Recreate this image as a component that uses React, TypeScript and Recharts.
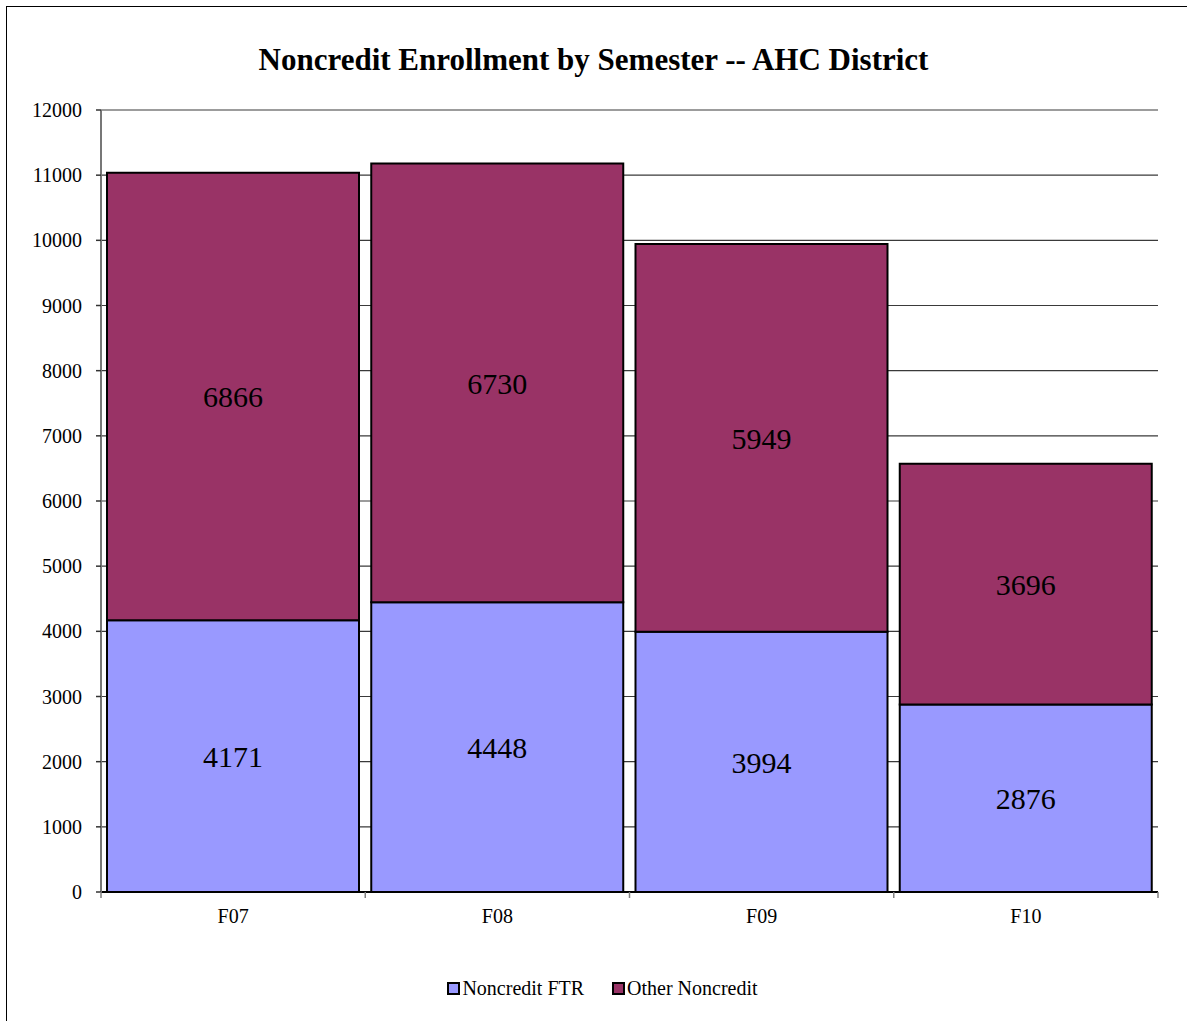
import React from 'react';
import { BarChart, Bar, XAxis, YAxis, CartesianGrid, LabelList } from 'recharts';

const categories = ['F07', 'F08', 'F09', 'F10'];
const ftrValues = [4171, 4448, 3994, 2876];
const otherValues = [6866, 6730, 5949, 3696];
const yTicks = [0, 1000, 2000, 3000, 4000, 5000, 6000, 7000, 8000, 9000, 10000, 11000, 12000];
const legendItems = [
  { label: 'Noncredit FTR', color: '#9999FF' },
  { label: 'Other Noncredit', color: '#993366' },
];

const data = categories.map((c, i) => ({ name: c, ftr: ftrValues[i], other: otherValues[i] }));

const FONT = '"Liberation Serif", "Times New Roman", serif';

const XTick = (props: any) => {
  const { x, y, payload, index, visibleTicksCount } = props;
  const half = payload.offset || 0;
  const axisY = y - 17;
  return (
    <g>
      <line x1={x - half} x2={x - half} y1={axisY} y2={axisY + 6} stroke="#808080" strokeWidth={1.5} />
      {index === visibleTicksCount - 1 && (
        <line x1={x + half} x2={x + half} y1={axisY} y2={axisY + 6} stroke="#808080" strokeWidth={1.5} />
      )}
      <text x={x} y={y} dy="0.71em" textAnchor="middle" style={{ fontFamily: FONT }} fontSize={20} fill="#000">
        {payload.value}
      </text>
    </g>
  );
};

export default function App() {
  return (
    <div style={{ position: 'fixed', left: 0, top: 0, width: 1187, height: 1021, overflow: 'hidden', background: '#fff', fontFamily: FONT }}>
      <div style={{ position: 'absolute', left: 6, top: 6, width: 1200, height: 1030, border: '1.5px solid #000' }} />
      <div style={{ position: 'absolute', left: 0, top: 42, width: 1187, textAlign: 'center', fontFamily: FONT, fontWeight: 'bold', fontSize: 31, color: '#000' }}>
        Noncredit Enrollment by Semester -- AHC District
      </div>
      <div style={{ position: 'absolute', left: 0, top: 0, fontFamily: FONT }}>
        <BarChart width={1187} height={1021} data={data} margin={{ top: 110, right: 29, left: 0, bottom: 0 }} barCategoryGap={6} style={{ fontFamily: FONT }}>
          <CartesianGrid vertical={false} stroke="#3a3a3a" strokeWidth={1.2} />
          <XAxis dataKey="name" height={129} tickLine={false} tickSize={0} tickMargin={17} axisLine={{ stroke: '#000', strokeWidth: 2 }} tick={<XTick />} interval={0} />
          <XAxis xAxisId="top" orientation="top" dataKey="name" height={0} tick={false} tickLine={false} axisLine={{ stroke: '#999', strokeWidth: 2 }} />
          <YAxis width={101} domain={[0, 12000]} ticks={yTicks} interval={0} tickSize={5} tickMargin={14}
            tickLine={{ stroke: '#333', strokeWidth: 1.5 }} axisLine={{ stroke: '#777', strokeWidth: 2 }}
            tick={{ fontSize: 20, fill: '#000', style: { fontFamily: FONT } }} />
          <YAxis yAxisId="right" orientation="right" width={0} domain={[0, 12000]} tick={false} tickLine={false} axisLine={{ stroke: '#999', strokeWidth: 2 }} />
          <Bar dataKey="ftr" name="Noncredit FTR" stackId="a" fill="#9999FF" stroke="#000" strokeWidth={2} isAnimationActive={false}>
            <LabelList dataKey="ftr" position="center" fontSize={30} fill="#000" style={{ fontFamily: FONT }} />
          </Bar>
          <Bar dataKey="other" name="Other Noncredit" stackId="a" fill="#993366" stroke="#000" strokeWidth={2} isAnimationActive={false}>
            <LabelList dataKey="other" position="center" fontSize={30} fill="#000" style={{ fontFamily: FONT }} />
          </Bar>
        </BarChart>
      </div>
      <div style={{ position: 'absolute', left: 0, top: 977, width: 1187, display: 'flex', justifyContent: 'center', fontFamily: FONT, fontSize: 20, color: '#000', paddingLeft: 18, boxSizing: 'border-box' }}>
        {legendItems.map((it, i) => (
          <div key={i} style={{ display: 'flex', alignItems: 'center', marginRight: i === 0 ? 28 : 0 }}>
            <span style={{ display: 'inline-block', width: 9, height: 9, background: it.color, border: '2px solid #000', marginRight: 2 }} />
            <span>{it.label}</span>
          </div>
        ))}
      </div>
    </div>
  );
}
